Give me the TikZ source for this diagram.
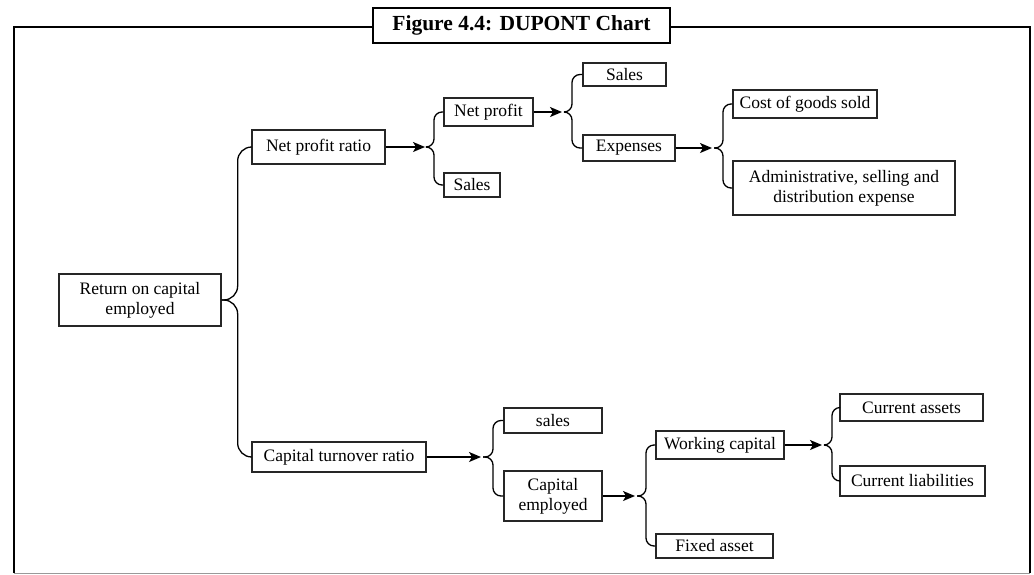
\documentclass[tikz,border=0pt]{standalone}
\usepackage{fontspec}
\setmainfont{Liberation Serif}
\usepackage{tikz}
\usetikzlibrary{positioning, arrows.meta}
\tikzset{B/.style={draw=black!85, line width=1.3pt, inner sep=2pt, align=center, font=\fontsize{17.5}{20}\selectfont}}
\tikzset{brc/.style={line width=1.3pt, rounded corners=8pt}}
\tikzset{arr/.style={->, line width=1.4pt, shorten >=2pt}}
\tikzset{bx/.style 2 args={minimum width=#1pt, minimum height=#2pt}}

\begin{document}
\begin{tikzpicture}[x=1pt, y=-1pt, >={Stealth[length=12pt,width=10pt,inset=3pt]}, semithick]
\useasboundingbox (0,0) rectangle (1034,574);
% frame
\draw[line width=2.6pt] (14,573) -- (14,27) -- (1030,27) -- (1030,573);
\draw[black!40, line width=0.8pt] (14,573) -- (1030,573);
\node (title) [draw, line width=2.4pt, fill=white, minimum width=297pt, minimum height=35pt, font=\fontsize{21.5}{24}\selectfont\bfseries] at (521.5,25.5) {Figure 4.4: DUPONT Chart};
%
\node (roce) [B, bx={162}{52}] at (140,300) {Return on capital\\employed};
\node (npr) [B, bx={133}{34}] at (318.5,147) {Net profit ratio};
\node (ctr) [B, bx={174}{30}] at (339,457) {Capital turnover ratio};
\node (np) [B, bx={89}{28}] at (488.5,112) {Net profit};
\node (sal1) [B, bx={56}{24}] at (472,185) {Sales};
\node (sal2) [B, bx={83}{23}] at (624.5,74.5) {Sales};
\node (exp) [B, bx={92}{26}] at (629,148) {Expenses};
\node (cogs) [B, bx={144}{28}] at (805,104) {Cost of goods sold};
\node (adm) [B, bx={222}{54}] at (844,188) {Administrative, selling and\\distribution expense};
\node (sal3) [B, bx={98}{25}] at (553,420.5) {sales};
\node (ce) [B, bx={98}{50}] at (553,496) {Capital\\employed};
\node (wc) [B, bx={128}{28}] at (720,445) {Working capital};
\node (fa) [B, bx={117}{24}] at (714.5,546) {Fixed asset};
\node (ca) [B, bx={143}{27}] at (911.5,407.5) {Current assets};
\node (cl) [B, bx={145}{30}] at (912.5,481) {Current liabilities};
%
\coordinate (j1) at (427,147);
\coordinate (j2) at (564,112);
\coordinate (j3) at (714,148);
\coordinate (j4) at (483,457);
\coordinate (j5) at (637,496);
\coordinate (j6) at (824,445);
%
\draw[brc, rounded corners=14pt] (roce.east) -- ++(16,0) |- (npr.west);
\draw[brc, rounded corners=14pt] (roce.east) -- ++(16,0) |- (ctr.west);
%
\draw[arr] (npr.east) -- (j1);
\draw[brc] (j1) -- ++(7,0) |- (np.west);
\draw[brc] (j1) -- ++(7,0) |- (sal1.west);
\draw[arr] (np.east) -- (j2);
\draw[brc] (j2) -- ++(8,0) |- (sal2.west);
\draw[brc] (j2) -- ++(8,0) |- (exp.west);
\draw[arr] (exp.east) -- (j3);
\draw[brc] (j3) -- ++(9,0) |- (cogs.west);
\draw[brc] (j3) -- ++(9,0) |- (adm.west);
%
\draw[arr] (ctr.east) -- (j4);
\draw[brc] (j4) -- ++(10,0) |- (sal3.west);
\draw[brc] (j4) -- ++(10,0) |- (ce.west);
\draw[arr] (ce.east) -- (j5);
\draw[brc] (j5) -- ++(9,0) |- (wc.west);
\draw[brc] (j5) -- ++(9,0) |- (fa.west);
\draw[arr] (wc.east) -- (j6);
\draw[brc] (j6) -- ++(8,0) |- (ca.west);
\draw[brc] (j6) -- ++(8,0) |- (cl.west);
\end{tikzpicture}
\end{document}
